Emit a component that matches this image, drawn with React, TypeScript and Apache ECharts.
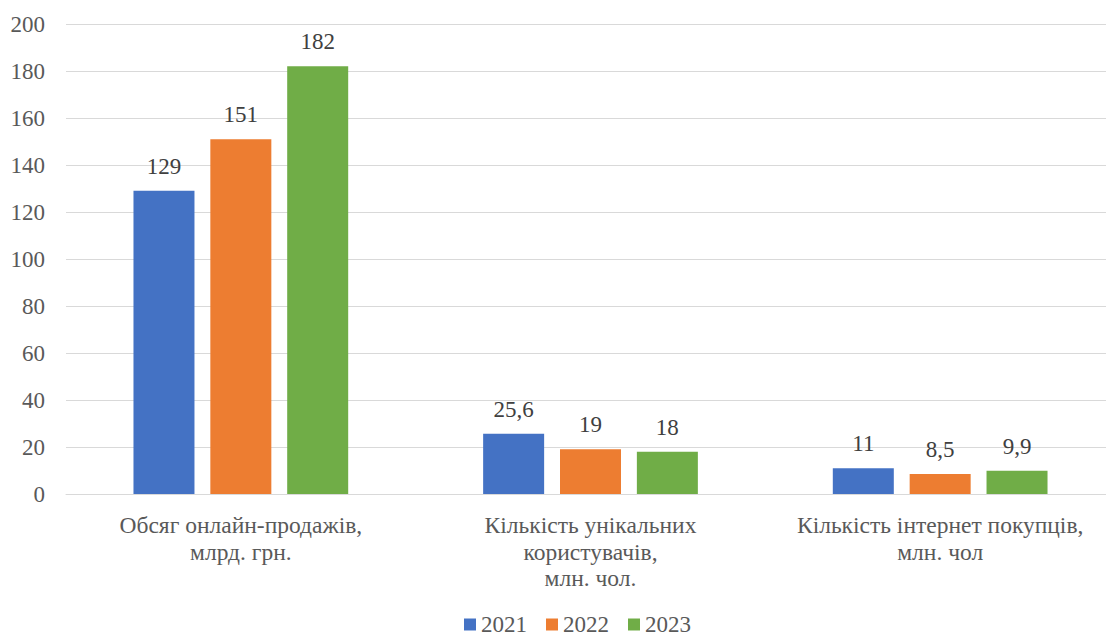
import React, { useEffect, useRef } from "react";
import * as echarts from "echarts";

const categories = [
  "Обсяг онлайн-продажів,\nмлрд. грн.",
  "Кількість унікальних\nкористувачів,\nмлн. чол.",
  "Кількість інтернет покупців,\nмлн. чол",
];
const seriesNames = ["2021", "2022", "2023"];
const values2021 = [129, 25.6, 11];
const values2022 = [151, 19, 8.5];
const values2023 = [182, 18, 9.9];
const colors = ["#4472C4", "#ED7D31", "#70AD47"];
const yMin = 0;
const yMax = 200;
const yStep = 20;

const FONT = "Liberation Serif";

export default function App() {
  const ref = useRef<HTMLDivElement>(null);

  useEffect(() => {
    const el = ref.current;
    if (!el) return;
    const chart = echarts.init(el, { textStyle: { fontFamily: FONT } }, { renderer: "svg" });
    const data = [values2021, values2022, values2023];

    // force the serif face onto every rendered SVG text node
    const applyFont = () => {
      el.querySelectorAll("text, tspan").forEach((t) => {
        (t as SVGElement).style.fontFamily = `"${FONT}", serif`;
      });
    };

    chart.setOption({
      animation: false,
      backgroundColor: "#ffffff",
      textStyle: { fontFamily: FONT },
      // plot area runs past the right edge of the visible frame
      grid: { left: 66, width: 1049, top: 24, bottom: 145, containLabel: false },
      legend: {
        data: seriesNames,
        top: 608,
        left: 459,
        icon: "rect",
        itemWidth: 12,
        itemHeight: 12,
        itemGap: 19,
        textStyle: { fontFamily: FONT, fontSize: 23, color: "#595959" },
      },
      xAxis: {
        type: "category",
        data: categories,
        axisTick: { show: false },
        axisLine: { lineStyle: { color: "#d9d9d9", width: 1 } },
        axisLabel: {
          fontFamily: FONT,
          fontSize: 23.5,
          lineHeight: 26.5,
          color: "#595959",
          margin: 18,
          interval: 0,
        },
      },
      yAxis: {
        type: "value",
        min: yMin,
        max: yMax,
        interval: yStep,
        axisLine: { show: false },
        axisTick: { show: false },
        splitLine: { lineStyle: { color: "#d9d9d9", width: 1 } },
        axisLabel: { fontFamily: FONT, fontSize: 23, color: "#595959", margin: 21 },
      },
      series: seriesNames.map((name, i) => ({
        name,
        type: "bar",
        data: data[i],
        barWidth: 61,
        barGap: "26%",
        itemStyle: { color: colors[i] },
        label: {
          show: true,
          position: "top",
          distance: 13,
          fontFamily: FONT,
          fontSize: 23,
          color: "#404040",
          formatter: (p: any) => String(p.value).replace(".", ","),
        },
      })),
    });

    chart.on("finished", applyFont);
    applyFont();
    const t1 = window.setTimeout(applyFont, 50);
    const t2 = window.setTimeout(applyFont, 300);

    return () => {
      window.clearTimeout(t1);
      window.clearTimeout(t2);
      chart.dispose();
    };
  }, []);

  return (
    <div
      style={{
        position: "fixed",
        left: 0,
        top: 0,
        width: 1106,
        height: 639,
        overflow: "hidden",
        background: "#fff",
      }}
    >
      <div ref={ref} style={{ width: 1130, height: 639 }} />
    </div>
  );
}
